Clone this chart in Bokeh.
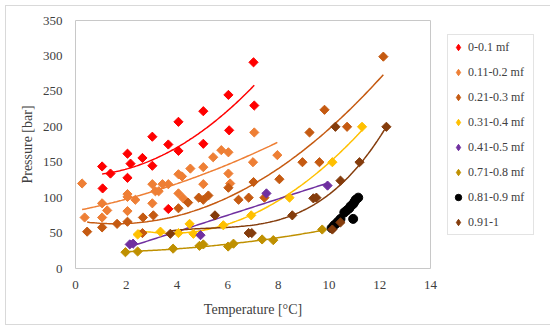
import numpy as np
from bokeh.plotting import figure
from bokeh.models import Legend, LegendItem, Range1d, FixedTicker
from bokeh.embed import file_html
from bokeh.resources import INLINE

# ---------------- data ----------------
NAMES = ["0-0.1 mf", "0.11-0.2 mf", "0.21-0.3 mf", "0.31-0.4 mf",
         "0.41-0.5 mf", "0.71-0.8 mf", "0.81-0.9 mf", "0.91-1"]
COLORS = ["#FF0000", "#EE7F35", "#C55A11", "#FFC000",
          "#7030A0", "#BF9000", "#000000", "#843C0C"]
TREND_DEG = [2, 2, 2, 2, 1, 2, None, 3]

T_01 = [1.05, 1.38, 1.07, 2.05, 2.17, 2.05, 2.64, 3.03, 3.03, 3.66, 3.66,
        4.06, 4.06, 5.04, 5.04, 6.03, 6.06, 7.02, 7.05]
P_01 = [144, 134, 113, 162, 148, 128, 156, 186, 145, 175, 84,
        207, 166, 222, 176, 245, 195, 291, 230]

T_02 = [0.26, 0.36, 1.05, 1.05, 1.25, 2.05, 2.05, 2.05, 2.36, 3.03, 3.03,
        3.15, 3.28, 3.43, 3.66, 4.06, 4.2, 4.06, 4.25, 4.53, 5.04, 5.04,
        5.43, 5.75, 6.03, 6.03, 6.1, 7.0, 7.05, 7.96]
P_02 = [120, 72, 92, 72, 82, 105, 101, 81, 97, 119, 92,
        109, 109, 119, 119, 133, 130, 106, 99, 141, 143, 119,
        157, 167, 164, 134, 120, 150, 192, 160]

T_03 = [0.46, 1.05, 1.64, 2.05, 2.66, 3.07, 2.64, 4.06, 4.44, 4.86, 5.04,
        5.24, 6.03, 6.43, 6.83, 7.02, 7.45, 8.04, 8.95, 9.23, 9.62, 9.82,
        10.71, 12.14]
P_03 = [52, 58, 63, 66, 72, 75, 50, 85, 93, 100, 97,
        103, 114, 97, 100, 122, 100, 126, 150, 192, 150, 224,
        200, 299]

T_04 = [2.45, 3.35, 4.06, 4.5, 4.65, 5.83, 6.93, 8.44, 10.13, 11.3]
P_04 = [48, 52, 50, 63, 49, 61, 75, 100, 150, 200]

T_05 = [2.14, 2.27, 4.93, 7.53, 9.94]
P_05 = [34, 35, 47, 106, 117]

T_07 = [1.97, 2.45, 3.85, 4.89, 5.04, 6.02, 6.23, 7.36, 7.8, 9.73]
P_07 = [23, 24, 28, 32, 34, 31, 35, 41, 40, 55]

T_08 = [10.1, 10.2, 10.3, 10.35, 10.45, 10.6, 10.7, 10.8, 10.85, 10.95,
        11.0, 11.05, 11.15, 10.95]
P_08 = [57, 61, 64, 66, 70, 79, 82, 85, 88, 91, 94, 97, 100, 70]

T_09 = [3.74, 5.5, 6.83, 6.95, 8.55, 9.38, 9.5, 10.13, 10.45, 10.45,
        11.2, 10.25, 12.26]
P_09 = [49, 75, 50, 50, 75, 99, 100, 55, 65, 124, 150, 200, 200]

XS = [T_01, T_02, T_03, T_04, T_05, T_07, T_08, T_09]
YS = [P_01, P_02, P_03, P_04, P_05, P_07, P_08, P_09]

X_TICKS = [0, 2, 4, 6, 8, 10, 12, 14]
Y_TICKS = [0, 50, 100, 150, 200, 250, 300, 350]

# ---------------- figure ----------------
FONT = "Liberation Serif"
p = figure(frame_width=355, frame_height=248, output_backend="svg",
           toolbar_location=None, x_range=Range1d(0, 14), y_range=Range1d(0, 350),
           min_border_left=69, min_border_right=114, min_border_top=14,
           min_border_bottom=56)
p.styles = {"margin": "5px", "border": "1px solid #D9D9D9"}
p.grid.visible = False
p.outline_line_color = "#C8C8C8"
p.background_fill_color = "white"

for ax in (p.xaxis[0], p.yaxis[0]):
    ax.axis_line_color = None
    ax.major_tick_line_color = None
    ax.minor_tick_line_color = None
    ax.major_tick_out = 0
    ax.major_tick_in = 0
    ax.major_label_text_font = FONT
    ax.major_label_text_font_size = "13px"
    ax.major_label_text_color = "#404040"
    ax.axis_label_text_font = FONT
    ax.axis_label_text_font_size = "14px"
    ax.axis_label_text_font_style = "normal"
    ax.axis_label_text_color = "#404040"
p.xaxis.ticker = FixedTicker(ticks=X_TICKS)
p.yaxis.ticker = FixedTicker(ticks=Y_TICKS)
p.xaxis.major_label_standoff = 12
p.yaxis.major_label_standoff = 13
p.xaxis.axis_label = "Temperature [°C]"
p.yaxis.axis_label = "Pressure [bar]"
p.xaxis.axis_label_standoff = 10
p.yaxis.axis_label_standoff = 5

items = []
for name, col, deg, xs, ys in zip(NAMES, COLORS, TREND_DEG, XS, YS):
    xs = np.array(xs, dtype=float)
    ys = np.array(ys, dtype=float)
    if deg is not None:
        coef = np.polyfit(xs, ys, deg)
        xx = np.linspace(xs.min(), xs.max(), 120)
        p.line(xx, np.polyval(coef, xx), line_color=col, line_width=1.5)
for name, col, deg, xs, ys in zip(NAMES, COLORS, TREND_DEG, XS, YS):
    if col == "#000000":
        p.scatter(xs, ys, marker="circle", size=9, fill_color=col, line_color=col)
        key = p.scatter([np.nan], [np.nan], marker="circle", size=6,
                        fill_color=col, line_color=col)
    else:
        p.scatter(xs, ys, marker="square", angle=np.pi / 4, size=6.5,
                  fill_color=col, line_color=col)
        key = p.scatter([np.nan], [np.nan], marker="diamond", size=8,
                        fill_color=col, line_color=col)
    items.append(LegendItem(label=name, renderers=[key]))

legend = Legend(items=items, location=(17, 33), padding=2, spacing=5,
                glyph_height=20, glyph_width=16, label_height=20, label_width=63,
                label_standoff=2, margin=0, border_line_color="#C8C8C8",
                label_text_font=FONT, label_text_font_size="12px",
                label_text_color="#404040", background_fill_alpha=1)
p.add_layout(legend, "right")

open("out.html", "w").write(file_html(p, INLINE))
